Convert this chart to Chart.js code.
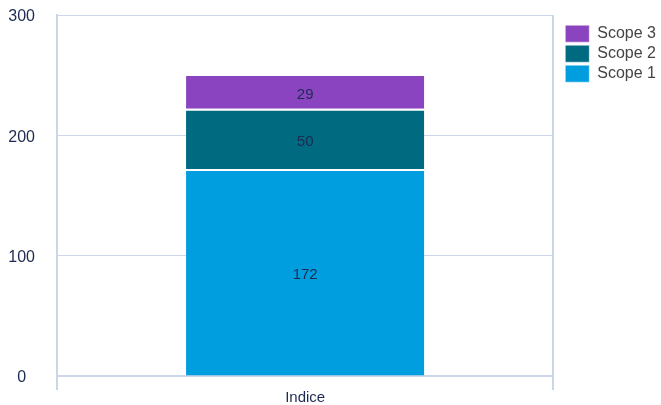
<!DOCTYPE html>
<html>
<head>
<meta charset="utf-8">
<script src="https://cdn.jsdelivr.net/npm/chart.js@4/dist/chart.umd.min.js"></script>
<style>
  html, body { margin: 0; padding: 0; background: #fff; }
  #wrap { width: 661px; height: 405px; }
</style>
</head>
<body>
<div id="wrap"><canvas id="chart"></canvas></div>
<script>
// chart data
const categories = ['Indice'];
const scope1 = [172];
const scope2 = [50];
const scope3 = [29];
const yTicks = [0, 100, 200, 300];

const navy = '#1d2b52';
const gridColor = '#cbd6e8';
const fontFamily = '"Liberation Sans", Arial, sans-serif';

// draws the value in the middle of every bar segment
const valueLabels = {
    id: 'valueLabels',
    afterDatasetsDraw(chart) {
        const ctx = chart.ctx;
        ctx.save();
        ctx.font = '15px ' + fontFamily;
        ctx.fillStyle = navy;
        ctx.textAlign = 'center';
        ctx.textBaseline = 'middle';
        chart.data.datasets.forEach((ds, i) => {
            const meta = chart.getDatasetMeta(i);
            meta.data.forEach((bar, j) => {
                const mid = (bar.y + bar.base) / 2;
                ctx.fillText(String(ds.data[j]), bar.x, mid + 3);
            });
        });
        ctx.restore();
    }
};

new Chart(document.getElementById('chart'), {
    type: 'bar',
    data: {
        labels: categories,
        datasets: [
            { label: 'Scope 1', data: scope1, backgroundColor: '#009ddf' },
            { label: 'Scope 2', data: scope2, backgroundColor: '#006a80' },
            { label: 'Scope 3', data: scope3, backgroundColor: '#8b44c0' }
        ]
    },
    options: {
        responsive: true,
        maintainAspectRatio: false,
        animation: false,
        layout: { padding: { top: 15, right: -5, left: 0, bottom: 0 } },
        datasets: {
            bar: {
                borderColor: '#ffffff',
                borderWidth: { top: 2, right: 0, bottom: 0, left: 0 },
                barPercentage: 0.48,
                categoryPercentage: 1
            }
        },
        plugins: {
            legend: {
                position: 'right',
                align: 'start',
                reverse: true,
                title: { display: true, text: '', padding: 0, font: { size: 6 } },
                labels: {
                    boxWidth: 24,
                    boxHeight: 17,
                    padding: 3,
                    color: '#444',
                    font: { family: fontFamily, size: 16 }
                }
            },
            tooltip: { enabled: false }
        },
        scales: {
            x: {
                stacked: true,
                grid: { color: gridColor, lineWidth: 2, tickLength: 14, offset: true },
                border: { color: gridColor, width: 2 },
                ticks: {
                    color: navy,
                    padding: 0,
                    font: { family: fontFamily, size: 15, lineHeight: 1 }
                }
            },
            y: {
                stacked: true,
                min: 0,
                max: 300,
                afterBuildTicks(axis) {
                    axis.ticks = yTicks.map(v => ({ value: v }));
                },
                afterFit(axis) {
                    axis.width = 57;
                    // tick padding should not push the plot down
                    axis.paddingTop = 0;
                    axis.paddingBottom = 0;
                },
                grid: { color: gridColor, lineWidth: 1, drawTicks: false },
                border: { color: gridColor, width: 2 },
                ticks: {
                    color: navy,
                    padding: 22,
                    labelOffset: 2,
                    crossAlign: 'center',
                    font: { family: fontFamily, size: 16 }
                }
            },
            // empty spacer between the plot and the legend
            gap: {
                type: 'linear',
                position: 'right',
                grid: { display: false },
                border: { display: false },
                ticks: { display: false },
                afterFit(axis) { axis.width = 9; }
            }
        }
    },
    plugins: [valueLabels]
});
</script>
</body>
</html>
